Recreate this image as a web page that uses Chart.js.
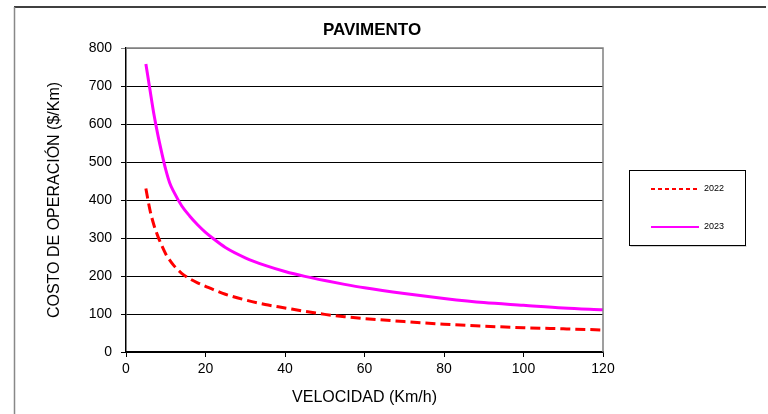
<!DOCTYPE html>
<html>
<head>
<meta charset="utf-8">
<script src="https://cdn.jsdelivr.net/npm/chart.js@4.4.1/dist/chart.umd.min.js"></script>
<style>
  html, body { margin: 0; padding: 0; background: #ffffff; }
  #wrap { width: 768px; height: 414px; position: relative; }
</style>
</head>
<body>
<div id="wrap"><canvas id="c" width="768" height="414"></canvas></div>
<script>
const chartTitle = "PAVIMENTO";
const xTitle = "VELOCIDAD (Km/h)";
const yTitle = "COSTO DE OPERACIÓN ($/Km)";
const seriesLabels = ["2022", "2023"];
const speeds   = [5, 6, 7, 8, 9, 10, 11, 12, 14, 16, 18, 20, 22, 25, 30, 35, 40, 45, 50, 55, 60, 70, 80, 90, 100, 110, 120];
const cost2022 = [430, 375, 335, 305, 280, 258, 242, 228, 207, 193, 182, 173, 164, 152, 137, 125, 116, 107, 99, 93, 88, 80, 73, 68, 64, 61, 58];
const cost2023 = [758, 692, 627, 572, 524, 480, 445, 422, 385, 358, 335, 315, 298, 275, 248, 228, 212, 199, 188, 178, 169, 154, 141, 130, 123, 116, 111];

const FONT = "'Liberation Sans', Arial, sans-serif";

function pts(xs, ys) { return xs.map((x, i) => ({ x: x, y: ys[i] })); }

const framePlugin = {
  id: 'frame',
  beforeDraw(chart) {
    const ctx = chart.ctx;
    ctx.save();
    ctx.fillStyle = '#ffffff';
    ctx.fillRect(0, 0, chart.width, chart.height);
    ctx.strokeStyle = '#000000';
    ctx.lineWidth = 1.5;
    ctx.beginPath();
    ctx.moveTo(14, 7);
    ctx.lineTo(766, 7);
    ctx.stroke();
    ctx.strokeStyle = '#888888';
    ctx.lineWidth = 1.5;
    ctx.beginPath();
    ctx.moveTo(14.5, 7);
    ctx.lineTo(14.5, 414);
    ctx.stroke();
    ctx.restore();
  },
  afterDatasetsDraw(chart) {
    const ctx = chart.ctx;
    const a = chart.chartArea;
    ctx.save();
    ctx.strokeStyle = '#808080';
    ctx.lineWidth = 1.5;
    ctx.beginPath();
    ctx.moveTo(a.left, a.top);
    ctx.lineTo(a.right, a.top);
    ctx.lineTo(a.right, a.bottom);
    ctx.stroke();
    ctx.fillStyle = '#000000';
    ctx.font = "bold 17px " + FONT;
    ctx.textAlign = 'center';
    ctx.textBaseline = 'middle';
    ctx.fillText(chartTitle, 372, 30);
    const lx = 629.5, ly = 170.5, lw = 116, lh = 75;
    ctx.fillStyle = '#d0d0d0';
    ctx.fillRect(lx + 1, ly + lh, lw, 1.5);
    ctx.fillStyle = '#ffffff';
    ctx.fillRect(lx, ly, lw, lh);
    ctx.strokeStyle = '#000000';
    ctx.lineWidth = 1;
    ctx.strokeRect(lx, ly, lw, lh);
    const rows = [189, 227];
    chart.data.datasets.forEach((ds, i) => {
      const y = rows[i];
      ctx.strokeStyle = ds.borderColor;
      ctx.lineWidth = 2;
      ctx.setLineDash(ds.borderDash && ds.borderDash.length ? [4, 3] : []);
      ctx.beginPath();
      ctx.moveTo(651, y);
      ctx.lineTo(699, y);
      ctx.stroke();
      ctx.setLineDash([]);
      ctx.fillStyle = '#000000';
      ctx.font = "9px " + FONT;
      ctx.textAlign = 'left';
      ctx.textBaseline = 'middle';
      ctx.fillText(ds.label, 704, y);
    });
    ctx.restore();
  }
};

new Chart(document.getElementById('c'), {
  type: 'line',
  data: {
    datasets: [
      {
        label: seriesLabels[0],
        data: pts(speeds, cost2022),
        borderColor: '#ff0000',
        borderWidth: 3,
        borderDash: [10, 5],
        pointRadius: 0,
        fill: false,
        cubicInterpolationMode: 'monotone'
      },
      {
        label: seriesLabels[1],
        data: pts(speeds, cost2023),
        borderColor: '#ff00ff',
        borderWidth: 3,
        pointRadius: 0,
        fill: false,
        cubicInterpolationMode: 'monotone'
      }
    ]
  },
  options: {
    responsive: false,
    animation: false,
    devicePixelRatio: 1,
    layout: { padding: { top: 48, right: 165, bottom: 0, left: 0 } },
    plugins: {
      legend: { display: false },
      title: { display: false },
      tooltip: { enabled: false }
    },
    scales: {
      x: {
        type: 'linear',
        min: 0, max: 120,
        ticks: { stepSize: 20, color: '#000000', font: { family: FONT, size: 14 }, padding: 4 },
        grid: { drawOnChartArea: false, drawTicks: true, tickLength: 5, color: '#000000', lineWidth: 1 },
        border: { color: '#000000', width: 1.5 },
        title: { display: true, text: xTitle, color: '#000000', font: { family: FONT, size: 16 }, padding: { top: 0, bottom: 7 } },
        afterFit(scale) { scale.height = 62; }
      },
      y: {
        type: 'linear',
        min: 0, max: 800,
        ticks: { stepSize: 100, color: '#000000', font: { family: FONT, size: 14 }, padding: 9 },
        grid: {
          drawTicks: true, tickLength: 5,
          color: (c) => (c.tick && c.tick.value === 800) ? '#808080' : '#000000',
          lineWidth: 1
        },
        border: { color: '#000000', width: 1.5 },
        title: { display: true, text: yTitle, color: '#000000', font: { family: FONT, size: 16 }, padding: { top: 45, bottom: 0 } },
        afterFit(scale) { scale.width = 126; }
      }
    }
  },
  plugins: [framePlugin]
});
</script>
</body>
</html>
